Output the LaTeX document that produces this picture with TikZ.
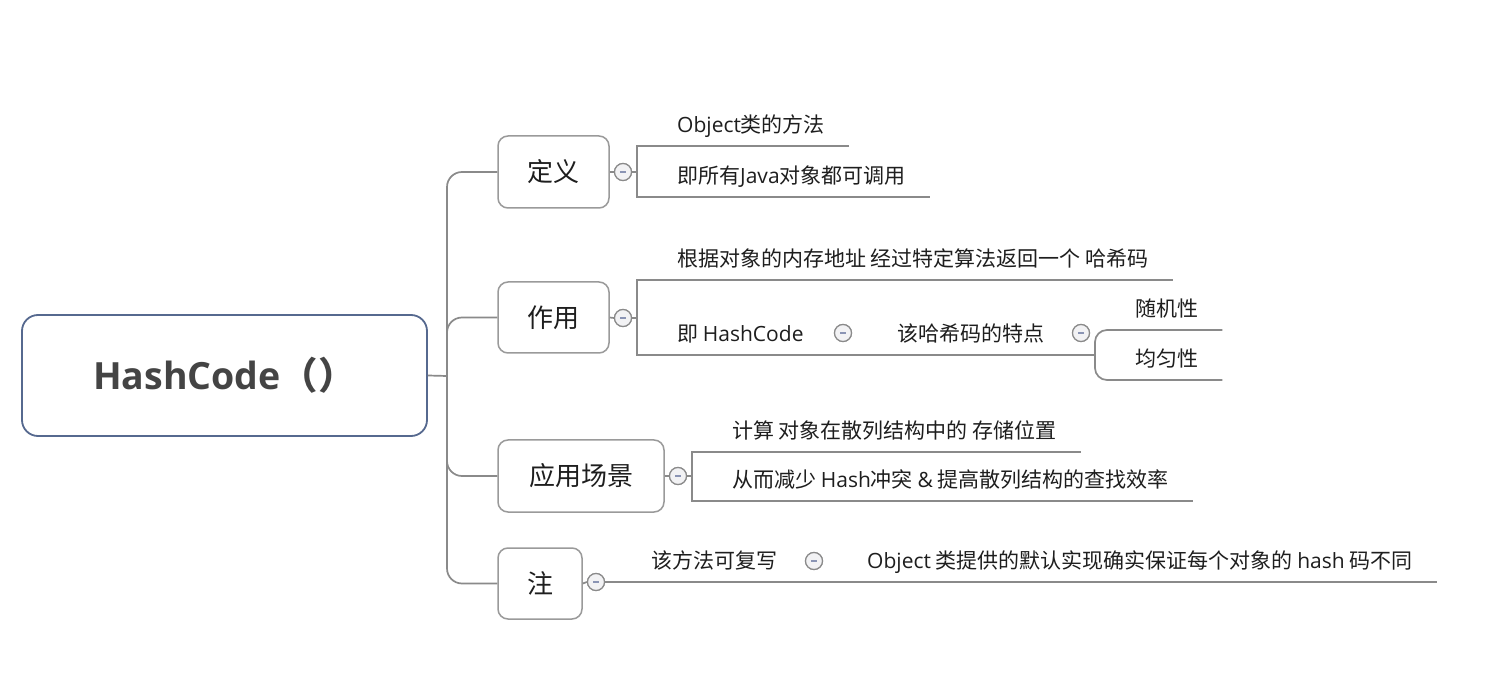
\documentclass[tikz,border=0pt]{standalone}
\usepackage{fontspec}
\setmainfont{Noto Sans CJK SC}
\newfontfamily\lat{Open Sans}
\definecolor{linec}{HTML}{8A8A8A}
\definecolor{boxc}{HTML}{9A9A9A}
\definecolor{rootc}{HTML}{56698F}
\definecolor{txtc}{HTML}{1E1E1E}
\definecolor{roottxt}{HTML}{444444}
\definecolor{btnc}{HTML}{8A8A8A}
\definecolor{btnfill}{HTML}{F2F2F4}
\definecolor{minusc}{HTML}{8A94B4}
\begin{document}
\begin{tikzpicture}[x=1pt,y=-1pt,
  rootbox/.style={draw=rootc, line width=1.8pt, rounded corners=16pt, fill=white,
    minimum width=405pt, minimum height=121pt, inner sep=0pt,
    font=\fontsize{37.5}{42}\selectfont, text=roottxt},
  box/.style={draw=boxc, line width=1.5pt, rounded corners=10pt, fill=white, inner sep=0pt,
    font=\fontsize{26}{30}\selectfont, text=txtc},
  leaf/.style={anchor=south west, inner xsep=0pt, inner ysep=0pt, text height=16pt, text depth=13pt,
    font=\fontsize{21}{25}\selectfont, text=txtc,
    execute at begin node={\hspace*{#1}}, execute at end node={\hspace*{24pt}}},
  leaf/.default=40pt,
  btn/.style={circle, draw=btnc, line width=1.2pt, fill=btnfill, minimum size=17pt, inner sep=0pt,
    path picture={\draw[minusc, line width=1.5pt]
      ([xshift=-3pt]path picture bounding box.center) -- ([xshift=3pt]path picture bounding box.center);}},
  conn/.style={draw=linec, line width=1.7pt},
]
\useasboundingbox[fill=white] (0,0) rectangle (1500,692);

% root and main boxes
\node[rootbox] (root) at (224.5,375.5) {{\lat\bfseries HashCode}\bfseries（）};
\node[box, minimum width=111pt, minimum height=72pt] (b1) at (553.5,172) {定义};
\node[box, minimum width=111pt, minimum height=71pt] (b2) at (553.5,317.5) {作用};
\node[box, minimum width=166pt, minimum height=72pt] (b3) at (581,476) {应用场景};
\node[box, minimum width=84pt, minimum height=71pt] (b4) at (540,583.5) {注};
\coordinate (hub) at (447,376);

% collapse buttons
\node[btn] (c1) at (623,172) {};
\node[btn] (c2) at (623,318) {};
\node[btn] (c3) at (678,476) {};
\node[btn] (c4) at (596,582) {};
\node[btn] (c5) at (843,333) {};
\node[btn] (c6) at (1081,333) {};
\node[btn] (c7) at (814,561) {};

% leaves
\node[leaf] (l1) at (637,146) {{\lat Object}类的方法};
\node[leaf] (l2) at (637,197) {即所有{\lat Java}对象都可调用};
\node[leaf] (l3) at (637,280) {根据对象的内存地址 经过特定算法返回一个 哈希码};
\node[leaf] (l4) at (637,355) {即 {\lat HashCode}};
\node[leaf] (l5) at (857,355) {该哈希码的特点};
\node[leaf] (l6) at (1095,330) {随机性};
\node[leaf] (l7) at (1095,380) {均匀性};
\node[leaf] (l8) at (692,452) {计算 对象在散列结构中的 存储位置};
\node[leaf] (l9) at (692,501) {从而减少 {\lat Hash}冲突 {\lat\&} 提高散列结构的查找效率};
\node[leaf=45pt] (l10) at (606,582) {该方法可复写};
\node[leaf] (l11) at (827,582) {{\lat Object} 类提供的默认实现确实保证每个对象的 {\lat hash} 码不同};

% trunk
\draw[conn] (root.east) -- (hub);
\draw[conn, rounded corners=15pt] (hub) |- (b1.west);
\draw[conn, rounded corners=15pt] (hub) |- (b2.west);
\draw[conn, rounded corners=15pt] (hub) |- (b3.west);
\draw[conn, rounded corners=15pt] (hub) |- (b4.west);

% 定义
\draw[conn] (b1.east) -- (c1.west);
\draw[conn] (c1.east) -- (c1.east -| l1.south west);
\draw[conn] (l1.south east) -- (l1.south west) -- (l2.south west) -- (l2.south east);

% 作用
\draw[conn] (b2.east) -- (c2.west);
\draw[conn] (c2.east) -- (c2.east -| l3.south west);
\draw[conn] (l3.south east) -- (l3.south west) -- (l4.south west) -- (l4.south -| l6.south west);
\draw[conn, rounded corners=12pt] (l6.south east) -- (l6.south west) -- (l7.south west) -- (l7.south east);

% 应用场景
\draw[conn] (b3.east) -- (c3.west);
\draw[conn] (c3.east) -- (c3.east -| l8.south west);
\draw[conn] (l8.south east) -- (l8.south west) -- (l9.south west) -- (l9.south east);

% 注
\draw[conn] (b4.east) -- (c4.west);
\draw[conn] (c4.east) -- (l10.south west) -- (l11.south east);

% redraw buttons on top
\foreach \c in {c1,c2,c3,c4,c5,c6,c7} {\node[btn] at (\c) {};}
\end{tikzpicture}
\end{document}
